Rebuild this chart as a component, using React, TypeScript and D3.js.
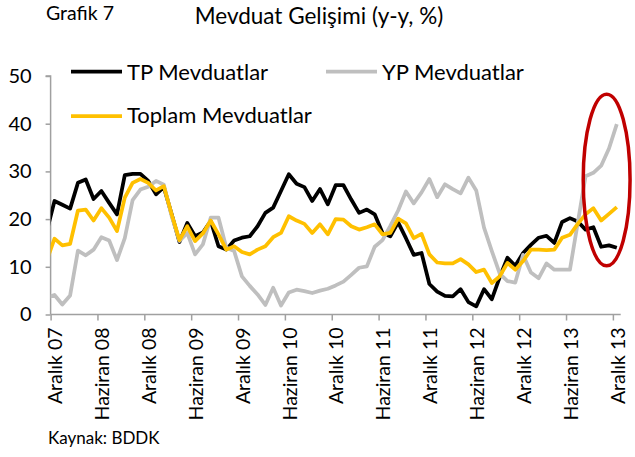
import React, { useRef, useEffect } from "react";
import * as d3 from "d3";

// aylar: Kasım 07 (grafiğin solunda kırpılıyor) .. Aralık 13
const tickLabels = [
  "Aralık 07", "Haziran 08", "Aralık 08", "Haziran 09", "Aralık 09", "Haziran 10",
  "Aralık 10", "Haziran 11", "Aralık 11", "Haziran 12", "Aralık 12", "Haziran 13", "Aralık 13",
];

const tpMevduat = [
  17.4, 23.8, 23.0, 22.2, 27.6, 28.3, 24.2, 25.9, 23.4, 21.0, 29.2, 29.5, 29.5, 28.0, 25.2, 26.7,
  21.0, 15.2, 19.2, 16.4, 17.2, 19.6, 14.3, 13.6, 15.5, 16.1, 16.4, 18.5, 21.3, 22.4, 25.9, 29.4,
  27.4, 26.7, 23.8, 26.3, 23.1, 27.1, 27.1, 24.1, 21.3, 22.0, 21.0, 17.1, 16.4, 19.3, 16.0, 12.5,
  12.9, 6.4, 4.8, 3.9, 3.8, 5.3, 2.6, 1.7, 5.3, 3.2, 7.8, 11.9, 10.2, 12.9, 14.6, 16.1,
  16.5, 15.0, 19.4, 20.2, 19.5, 17.8, 18.3, 14.2, 14.5, 14.0,
];

const ypMevduat = [
  3.5, 4.1, 2.1, 4.0, 13.4, 12.4, 13.6, 16.2, 15.5, 11.4, 16.0, 24.0, 26.2, 26.8, 28.0, 27.2,
  20.6, 15.4, 17.1, 12.6, 14.7, 20.3, 20.3, 14.0, 13.3, 8.0, 6.0, 4.2, 2.0, 5.6, 1.9, 4.6,
  5.2, 4.9, 4.5, 5.0, 5.4, 6.1, 6.9, 8.3, 9.8, 10.1, 14.2, 15.6, 18.6, 21.8, 25.8, 23.3,
  25.6, 28.4, 24.6, 27.3, 26.3, 25.4, 28.7, 26.0, 18.2, 13.3, 8.6, 7.0, 6.7, 12.5, 8.8, 7.6,
  10.7, 9.4, 9.4, 9.4, 19.2, 29.0, 29.7, 31.2, 34.8, 39.9,
];

const toplamMevduat = [
  11.3, 15.9, 14.5, 14.8, 21.8, 22.0, 19.7, 22.3, 20.3, 17.5, 24.5, 27.6, 28.4, 27.6, 26.0, 26.9,
  21.0, 15.6, 18.5, 15.4, 17.0, 19.7, 16.8, 13.6, 14.3, 13.1, 12.6, 13.6, 14.3, 16.2, 17.1, 20.6,
  19.7, 19.0, 17.1, 18.9, 16.8, 20.0, 19.9, 18.5, 17.8, 18.3, 18.9, 16.8, 17.1, 20.1, 19.1, 16.0,
  16.9, 12.6, 10.9, 10.7, 10.7, 11.6, 10.5, 8.9, 9.4, 6.6, 8.0, 10.8, 9.4, 11.2, 13.6, 13.6,
  13.5, 13.6, 16.1, 16.7, 19.0, 21.0, 22.3, 19.7, 21.1, 22.5,
];

const yTicks = [0, 10, 20, 30, 40, 50];

const FONT = "Lato, 'Open Sans', sans-serif";

const App = () => {
  const ref = useRef<SVGSVGElement | null>(null);

  useEffect(() => {
    const width = 635;
    const svg = d3.select(ref.current);
    svg.selectAll("*").remove();

    const x = d3.scaleLinear().domain([0.5, 73.5]).range([50.6, 620.7]);
    const y = d3.scaleLinear().domain([0, 50]).range([314.5, 76]);

    svg
      .append("defs")
      .append("clipPath")
      .attr("id", "plot")
      .append("rect")
      .attr("x", x(0.5))
      .attr("y", 40)
      .attr("width", width - x(0.5))
      .attr("height", 290);

    // başlıklar
    svg
      .append("text")
      .attr("x", 46)
      .attr("y", 19.5)
      .attr("font-size", "19.5px")
      .text("Grafik 7");

    svg
      .append("text")
      .attr("x", 319)
      .attr("y", 23.5)
      .attr("text-anchor", "middle")
      .attr("font-size", "22.5px")
      .text("Mevduat Gelişimi (y-y, %)");

    // y ekseni
    const yAxis = svg
      .append("g")
      .attr("transform", `translate(${x(0.5)},0)`)
      .call(d3.axisLeft(y).tickValues(yTicks).tickSize(5).tickPadding(14));
    yAxis.selectAll("text").attr("font-size", "20px").attr("font-family", FONT).attr("fill", "#000");

    // x ekseni
    const xTickValues = tickLabels.map((_, i) => 0.5 + i * 6);
    const xAxis = svg
      .append("g")
      .attr("transform", `translate(0,${y(0)})`)
      .call(
        d3
          .axisBottom(x)
          .tickValues(xTickValues)
          .tickSize(6)
          .tickFormat(() => "")
      );

    svg.selectAll(".domain, .tick line").attr("stroke", "#a0a0a0").attr("stroke-width", 1.5);
    yAxis.select(".domain").attr("d", `M-5,${y(50)}H0V${y(0)}`);
    xAxis.select(".domain").attr("d", `M${x(0.5)},0H${x(73.5)}`);

    svg
      .append("g")
      .selectAll("text")
      .data(tickLabels)
      .join("text")
      .attr("transform", (d, i) => `translate(${x(1 + i * 6) + 1},${y(0) + 13}) rotate(-90)`)
      .attr("text-anchor", "end")
      .attr("dy", "0.35em")
      .attr("font-size", "19.5px")
      .text((d) => d);

    // seriler
    const line = d3
      .line<number>()
      .x((d, i) => x(i))
      .y((d) => y(d));

    const series = [
      { name: "TP Mevduatlar", values: tpMevduat, color: "#000000" },
      { name: "YP Mevduatlar", values: ypMevduat, color: "#bfbfbf" },
      { name: "Toplam Mevduatlar", values: toplamMevduat, color: "#ffc000" },
    ];

    svg
      .append("g")
      .attr("clip-path", "url(#plot)")
      .selectAll("path")
      .data(series)
      .join("path")
      .attr("fill", "none")
      .attr("stroke", (d) => d.color)
      .attr("stroke-width", 3.75)
      .attr("stroke-linejoin", "round")
      .attr("d", (d) => line(d.values));

    // lejant
    const legend = [
      { s: series[0], lx: 71, ly: 71.5, ty: 79.5 },
      { s: series[1], lx: 326, ly: 71.5, ty: 79.5 },
      { s: series[2], lx: 71, ly: 116, ty: 122.5 },
    ];
    const lg = svg.append("g").selectAll("g").data(legend).join("g");
    lg.append("line")
      .attr("x1", (d) => d.lx)
      .attr("x2", (d) => d.lx + 51)
      .attr("y1", (d) => d.ly)
      .attr("y2", (d) => d.ly)
      .attr("stroke", (d) => d.s.color)
      .attr("stroke-width", 3.75);
    lg.append("text")
      .attr("x", (d) => d.lx + 56)
      .attr("y", (d) => d.ty)
      .attr("font-size", "22px")
      .text((d) => d.s.name);

    // son aylardaki YP sıçramasını işaretleyen elips
    svg
      .append("ellipse")
      .attr("cx", x(71.7))
      .attr("cy", y(28.2))
      .attr("rx", x(3) - x(0))
      .attr("ry", y(0) - y(18))
      .attr("fill", "none")
      .attr("stroke", "#c00000")
      .attr("stroke-width", 3.5);

    svg
      .append("text")
      .attr("x", 48)
      .attr("y", 444)
      .attr("font-size", "17px")
      .text("Kaynak: BDDK");
  }, []);

  return (
    <svg
      ref={ref}
      width={635}
      height={457}
      style={{ position: "absolute", left: 0, top: 0, background: "#fff" }}
      fontFamily={FONT}
    />
  );
};

export default App;
